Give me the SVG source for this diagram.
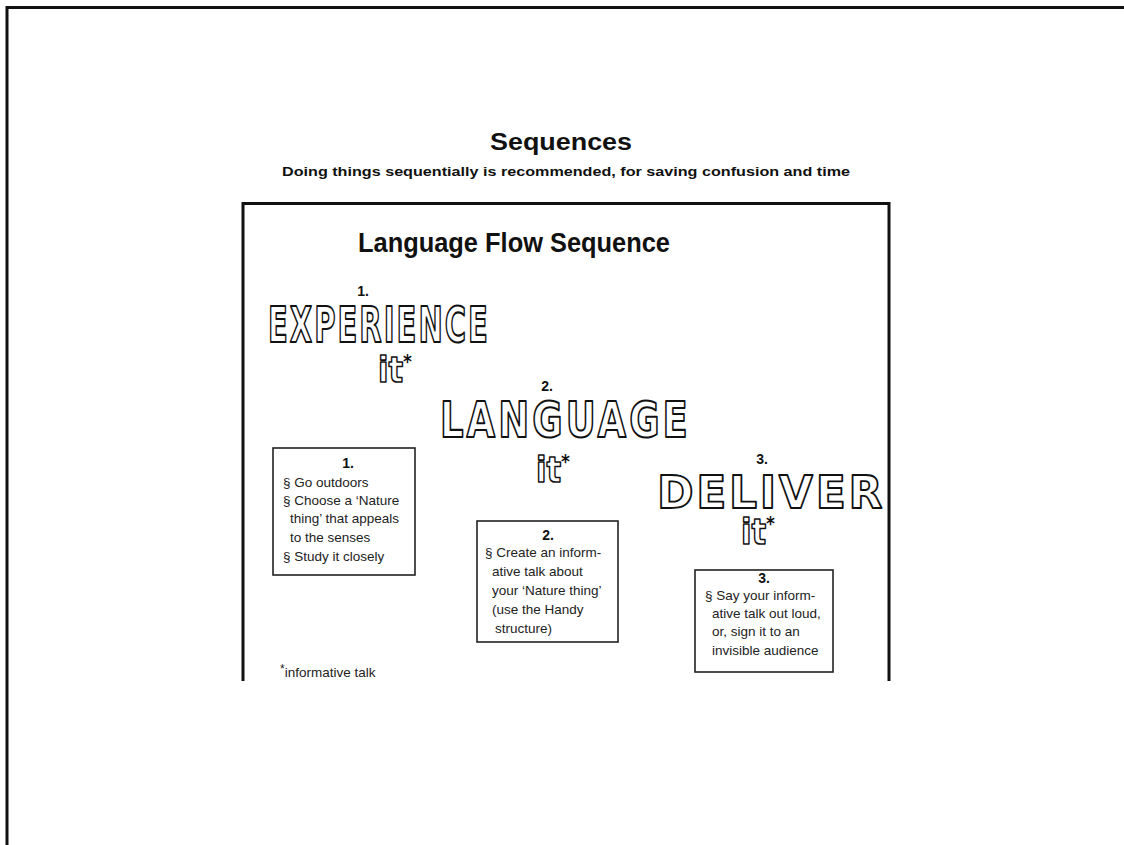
<svg xmlns="http://www.w3.org/2000/svg" width="1124" height="845" viewBox="0 0 1124 845">
<style>
.hd{font-family:"Liberation Sans",Arial,sans-serif;font-weight:bold;fill:#111}
.bx{fill:#fff;stroke:#222;stroke-width:1.6}
.tx{font-family:"Liberation Sans",Arial,sans-serif;font-size:13.5px;fill:#222}
.num{font-family:"Liberation Sans",Arial,sans-serif;font-weight:bold;font-size:14px;fill:#111;text-anchor:middle}
.big{font-family:"DejaVu Sans",sans-serif;font-weight:bold;fill:#fff;stroke:#111;stroke-width:1.8;stroke-linejoin:round;vector-effect:non-scaling-stroke}
.it{font-family:"DejaVu Sans",sans-serif;font-weight:bold;font-size:36px;fill:#fff;stroke:#111;stroke-width:1.5;stroke-linejoin:round;vector-effect:non-scaling-stroke}
.ast{font-family:"DejaVu Sans",sans-serif;font-weight:bold;font-size:20px;fill:#111;stroke:none}
.gray{opacity:0.999}
</style>
<rect width="1124" height="845" fill="#fff"/>
<path d="M7,845 V7.5 H1124" fill="none" stroke="#111" stroke-width="3"/>
<g id="header">
<text class="hd" x="561" y="150" font-size="23" text-anchor="middle" textLength="142" lengthAdjust="spacingAndGlyphs">Sequences</text>
<text class="hd" x="566" y="176" font-size="13" text-anchor="middle" textLength="568" lengthAdjust="spacingAndGlyphs">Doing things sequentially is recommended, for saving confusion and time</text>
</g>
<g id="frame">
<path d="M243,681 V203.5 H889 V681" fill="none" stroke="#111" stroke-width="3"/>
<text class="hd" x="514" y="252" font-size="28" text-anchor="middle" textLength="312" lengthAdjust="spacingAndGlyphs">Language Flow Sequence</text>
</g>
<g id="step1-title" class="gray">
<text class="num" x="363" y="296">1.</text>
<text class="big" transform="translate(268,342) scale(0.58,1)" x="0" y="0" font-size="50" textLength="379" lengthAdjust="spacing">EXPERIENCE</text>
<text class="it" transform="translate(378,382) scale(0.85,1)" x="0" y="0">it<tspan class="ast" dy="-14">*</tspan></text>
</g>
<g id="step2-title" class="gray">
<text class="num" x="547" y="391">2.</text>
<text class="big" transform="translate(440,437) scale(0.74,1)" x="0" y="0" font-size="50" textLength="335" lengthAdjust="spacing">LANGUAGE</text>
<text class="it" transform="translate(536,482) scale(0.85,1)" x="0" y="0">it<tspan class="ast" dy="-14">*</tspan></text>
</g>
<g id="step3-title" class="gray">
<text class="num" x="762" y="464">3.</text>
<text class="big" transform="translate(657,508) scale(0.98,1)" x="0" y="0" font-size="45" textLength="230" lengthAdjust="spacing">DELIVER</text>
<text class="it" transform="translate(741,544) scale(0.85,1)" x="0" y="0">it<tspan class="ast" dy="-14">*</tspan></text>
</g>
<g id="box1">
<rect class="bx" x="273" y="448" width="142" height="127"/>
<text class="num" x="348" y="468">1.</text>
<text class="tx" x="283" y="487">§ Go outdoors</text>
<text class="tx" x="283" y="505">§ Choose a ‘Nature</text>
<text class="tx" x="290" y="523">thing’ that appeals</text>
<text class="tx" x="290" y="542">to the senses</text>
<text class="tx" x="283" y="561">§ Study it closely</text>
</g>
<g id="box2">
<rect class="bx" x="477" y="521" width="141" height="121"/>
<text class="num" x="548" y="540">2.</text>
<text class="tx" x="485" y="557">§ Create an inform-</text>
<text class="tx" x="492" y="576">ative talk about</text>
<text class="tx" x="492" y="595">your ‘Nature thing’</text>
<text class="tx" x="492" y="614">(use the Handy</text>
<text class="tx" x="495" y="633">structure)</text>
</g>
<g id="box3">
<rect class="bx" x="695" y="570" width="138" height="102"/>
<text class="num" x="764" y="583">3.</text>
<text class="tx" x="705" y="600">§ Say your inform-</text>
<text class="tx" x="712" y="618">ative talk out loud,</text>
<text class="tx" x="712" y="636">or, sign it to an</text>
<text class="tx" x="712" y="655">invisible audience</text>
</g>
<g id="footnote">
<text class="tx" x="280" y="677" font-size="14"><tspan font-size="12" dy="-4">*</tspan><tspan dy="4">informative talk</tspan></text>
</g>
<g id="connectors"/>
</svg>
